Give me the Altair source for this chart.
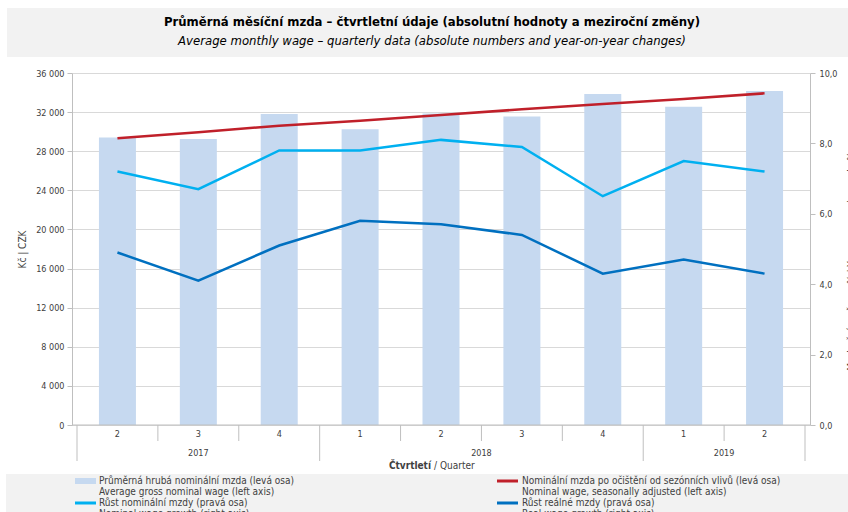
import altair as alt
import pandas as pd

# ---- data ----
years = ["2017", "2017", "2017", "2018", "2018", "2018", "2018", "2019", "2019"]
quarters = ["2", "3", "4", "1", "2", "3", "4", "1", "2"]
avg_wage = [29400, 29250, 31800, 30250, 31850, 31550, 33850, 32550, 34150]
wage_sa = [29320, 29930, 30610, 31120, 31700, 32290, 32830, 33340, 33920]
nominal_growth = [7.2, 6.7, 7.8, 7.8, 8.1, 7.9, 6.5, 7.5, 7.2]
real_growth = [4.9, 4.1, 5.1, 5.8, 5.7, 5.4, 4.3, 4.7, 4.3]

left_ticks = list(range(0, 36001, 4000))
right_ticks = [0, 2, 4, 6, 8, 10]

title_cz = "Průměrná měsíční mzda – čtvrtletní údaje (absolutní hodnoty a meziroční změny)"
title_en = "Average monthly wage – quarterly data (absolute numbers and year-on-year changes)"
left_title = "Kč | CZK"
right_title = "Meziroční změna v % | Year-on-year change in %"
x_title_cz = "Čtvrtletí"
x_title_en = "/ Quarter"

legend_cz = ["Průměrná hrubá nominální mzda (levá osa)",
             "Nominální mzda po očištění od sezónních vlivů (levá osa)",
             "Růst nominální mzdy (pravá osa)",
             "Růst reálné mzdy (pravá osa)"]
legend_en = ["Average gross nominal wage (left axis)",
             "Nominal wage, seasonally adjusted (left axis)",
             "Nominal wage growth (right axis)",
             "Real wage growth (right axis)"]

# ---- styling ----
FONT = "DejaVu Sans Condensed, Liberation Sans, sans-serif"
C_BAR = "#C6D9F0"
C_RED = "#C0202A"
C_LIGHT = "#00B0F0"
C_DARK = "#0070C0"
C_GRID = "#D9D9D9"
C_AXIS = "#BFBFBF"
C_TEXT = "#404040"
C_BG = "#F2F2F2"

W, H = 738, 352
PAD_L, PAD_T = 72, 73

n = len(quarters)
df = pd.DataFrame({
    "pos": [k + 0.5 for k in range(n)],
    "quarter": quarters,
    "year": years,
    "wage": avg_wage,
    "wage_sa": wage_sa,
    "nom": nominal_growth,
    "real": real_growth,
})

# separators: boundaries between quarters; long ones where the year changes
bounds = list(range(n + 1))
is_year_bound = [b == 0 or b == n or years[b] != years[b - 1] for b in bounds]
short_df = pd.DataFrame({"b": [b for b, y in zip(bounds, is_year_bound) if not y]})
long_df = pd.DataFrame({"b": [b for b, y in zip(bounds, is_year_bound) if y]})

# year labels centred over their quarter groups
yl = []
start = 0
for k in range(1, n + 1):
    if k == n or years[k] != years[k - 1]:
        yl.append({"c": (start + k) / 2, "year": years[start]})
        start = k
year_df = pd.DataFrame(yl)

xscale = alt.Scale(domain=[0, n], nice=False, zero=False)
X = alt.X("pos:Q", scale=xscale, axis=None)

left_axis = alt.Axis(
    values=left_ticks,
    labelExpr="replace(format(datum.value, ',d'), ',', ' ')",
    title=left_title, titleX=-50, titleY=H / 2, titleAngle=270,
    titleBaseline="middle", titleAlign="center",
    titleFont=FONT, titleFontSize=10, titleFontWeight="normal", titleColor=C_TEXT,
    grid=True, gridColor=C_GRID, domainColor=C_AXIS, tickColor=C_AXIS,
    tickSize=5, labelFont=FONT, labelFontSize=9, labelColor=C_TEXT, labelPadding=3,
)
right_axis = alt.Axis(
    orient="right",
    values=right_ticks,
    labelExpr="replace(format(datum.value, '.1f'), '.', ',')",
    title=right_title, titleX=41, titleY=H / 2 + 12, titleAngle=270,
    titleBaseline="middle", titleAlign="center",
    titleFont=FONT, titleFontSize=10, titleFontWeight="normal", titleColor=C_TEXT,
    grid=False, domainColor=C_AXIS, tickColor=C_AXIS,
    tickSize=5, labelFont=FONT, labelFontSize=9, labelColor=C_TEXT, labelPadding=4,
)

lscale = alt.Scale(domain=[0, 36000], nice=False)
rscale = alt.Scale(domain=[0, 10], nice=False)

bars = alt.Chart(df).mark_bar(width=37, color=C_BAR).encode(
    x=X, y=alt.Y("wage:Q", scale=lscale, axis=left_axis))
red = alt.Chart(df).mark_line(color=C_RED, strokeWidth=2.5).encode(
    x=X, y=alt.Y("wage_sa:Q", scale=lscale, axis=left_axis))
left = alt.layer(bars, red)

light = alt.Chart(df).mark_line(color=C_LIGHT, strokeWidth=2.5).encode(
    x=X, y=alt.Y("nom:Q", scale=rscale, axis=right_axis))
dark = alt.Chart(df).mark_line(color=C_DARK, strokeWidth=2.5).encode(
    x=X, y=alt.Y("real:Q", scale=rscale, axis=right_axis))
right = alt.layer(light, dark)

one = alt.Data(values=[{}])

def txt(s, x, y, size=11, weight="normal", style="normal", align="center", color=C_TEXT, angle=0):
    return alt.Chart(one).mark_text(
        font=FONT, fontSize=size, fontWeight=weight, fontStyle=style, align=align,
        baseline="middle", color=color, angle=angle,
    ).encode(x=alt.value(x), y=alt.value(y), text=alt.value(s))

# title box
title_bg = alt.Chart(one).mark_rect(color=C_BG).encode(
    x=alt.value(-65), x2=alt.value(776), y=alt.value(-65), y2=alt.value(-16))
t1 = txt(title_cz, 360, -51, size=13, weight="bold", color="#000000")
t2 = txt(title_en, 360, -32, size=13, style="italic", color="#000000")

# bottom x axis line
xline = alt.Chart(one).mark_rule(color=C_AXIS).encode(
    x=alt.value(0), x2=alt.value(W), y=alt.value(H))

seps_short = alt.Chart(short_df).mark_rule(color=C_AXIS).encode(
    x=alt.X("b:Q", scale=xscale, axis=None), y=alt.value(H), y2=alt.value(H + 16))
seps_long = alt.Chart(long_df).mark_rule(color=C_AXIS).encode(
    x=alt.X("b:Q", scale=xscale, axis=None), y=alt.value(H), y2=alt.value(H + 36))
qlabels = alt.Chart(df).mark_text(font=FONT, fontSize=9, color=C_TEXT, baseline="middle").encode(
    x=X, y=alt.value(H + 9), text="quarter:N")
ylabels = alt.Chart(year_df).mark_text(font=FONT, fontSize=9, color=C_TEXT, baseline="middle").encode(
    x=alt.X("c:Q", scale=xscale, axis=None), y=alt.value(H + 28), text="year:N")
xt1 = txt(x_title_cz, 359, H + 41, size=10, weight="bold", align="right")
xt2 = txt(x_title_en, 362, H + 41, size=10, align="left")

# legend
leg_bg = alt.Chart(one).mark_rect(color=C_BG).encode(
    x=alt.value(-66), x2=alt.value(776), y=alt.value(401), y2=alt.value(445))
legend_layers = [leg_bg]
swatch_x = [3, 425]
text_x = [27, 450]
row_y = [408, 430]
colors = [C_BAR, C_RED, C_LIGHT, C_DARK]
for k in range(4):
    col, row = k % 2, k // 2
    sx, ty = swatch_x[col], row_y[row]
    if k == 0:
        sw = alt.Chart(one).mark_rect(color=colors[k]).encode(
            x=alt.value(sx), x2=alt.value(sx + 21), y=alt.value(ty - 3), y2=alt.value(ty + 3))
    else:
        sw = alt.Chart(one).mark_rule(color=colors[k], strokeWidth=3).encode(
            x=alt.value(sx), x2=alt.value(sx + 21), y=alt.value(ty))
    legend_layers.append(sw)
    legend_layers.append(txt(legend_cz[k], text_x[col], ty, size=10, align="left"))
    legend_layers.append(txt(legend_en[k], text_x[col], ty + 11, size=10, align="left"))

chart = alt.layer(
    title_bg, t1, t2, left, right, xline, seps_short, seps_long, qlabels, ylabels, xt1, xt2,
    *legend_layers
).resolve_scale(y="independent").properties(
    width=W, height=H,
    autosize=alt.AutoSizeParams(type="none"),
    padding={"left": PAD_L, "top": PAD_T, "right": 848 - PAD_L - W, "bottom": 512 - PAD_T - H},
    background="white",
).configure_view(stroke=None)

chart.save("out.html", embed_options={"renderer": "svg", "actions": False})
